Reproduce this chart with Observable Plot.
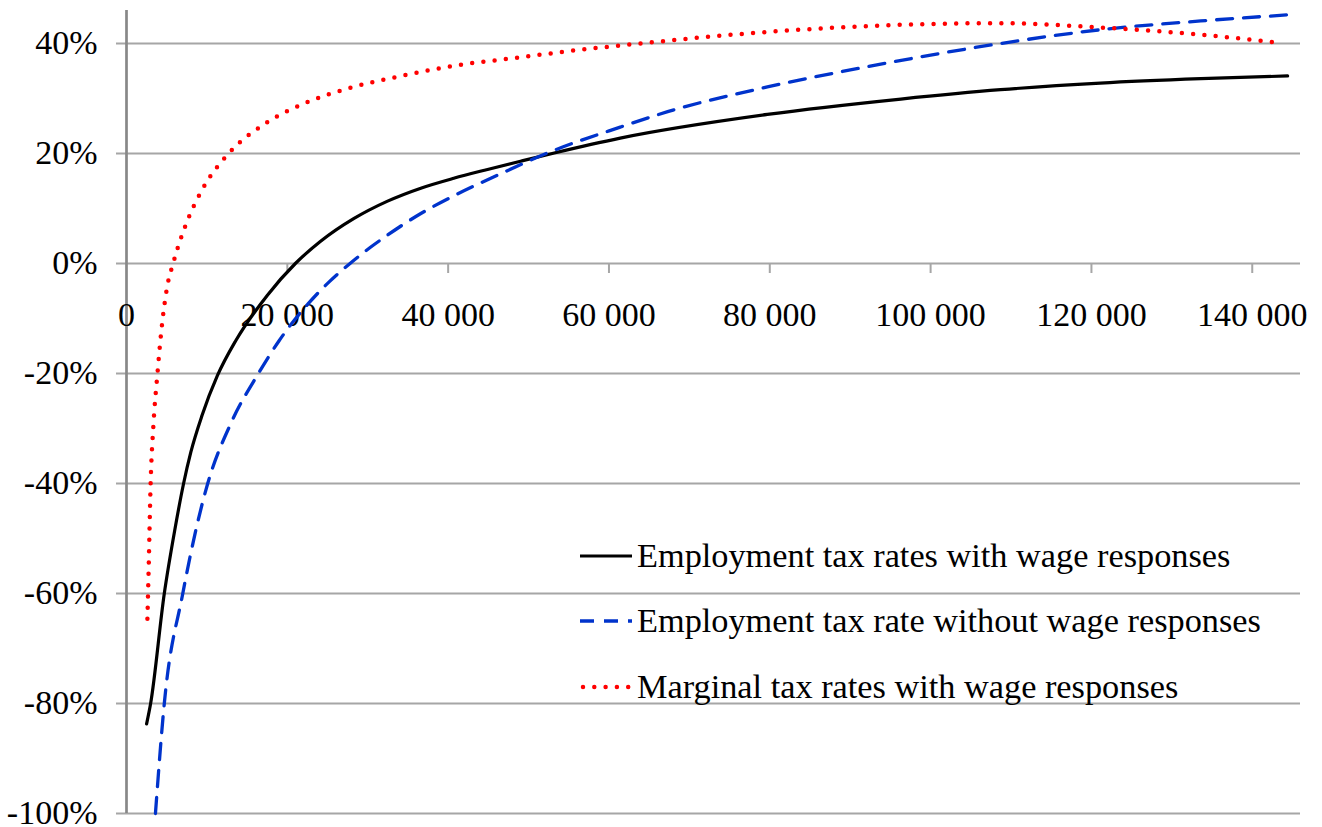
<!DOCTYPE html>
<html>
<head>
<meta charset="utf-8">
<script src="https://cdn.jsdelivr.net/npm/d3@7"></script>
<script src="https://cdn.jsdelivr.net/npm/@observablehq/plot@0.6"></script>
<style>
  html, body { margin: 0; padding: 0; background: #fff; }
  #wrap { position: relative; width: 1322px; height: 827px; }
  #legend { position: absolute; left: 0; top: 0; pointer-events: none; }
</style>
</head>
<body>
<div id="wrap"></div>
<script>
// ---- Data ----
const xTicks = [0, 20000, 40000, 60000, 80000, 100000, 120000, 140000];
const yTicks = [-100, -80, -60, -40, -20, 0, 20, 40];

const seriesNames = [
  "Employment tax rates with wage responses",
  "Employment tax rate without wage responses",
  "Marginal tax rates with wage responses"
];

// Employment tax rates with wage responses (solid black)
const empWithX = [2500, 3000, 4700, 6000, 7100, 8000, 9400, 11300, 13600, 17500, 21000, 24100, 28300, 32400, 36600, 40700, 44900, 49000, 53200, 61400, 79700, 96300, 108700, 121100, 133600, 144400];
const empWithY = [-83.7, -80, -60, -48.5, -40, -34.3, -27.6, -20.4, -14, -5.8, 0, 4.0, 8.2, 11.3, 13.7, 15.5, 17.1, 18.6, 20.1, 22.8, 27.1, 29.9, 31.6, 32.8, 33.6, 34.1];

// Employment tax rate without wage responses (dashed blue)
const empWithoutX = [3600, 4700, 7000, 10100, 13000, 16400, 19000, 22600, 25300, 27800, 30300, 32400, 36500, 40700, 46500, 52700, 61400, 67300, 79700, 92200, 108700, 121100, 133600, 144400];
const empWithoutY = [-100, -80, -60, -40, -29, -20, -14, -7.3, -3.2, 0, 2.9, 5.1, 9.0, 12.3, 16.3, 20.3, 24.8, 27.6, 32.1, 35.8, 40, 42.5, 44.1, 45.2];

// Marginal tax rates with wage responses (dotted red)
const margX = [2600, 2750, 3000, 3350, 3850, 4300, 5050, 5800, 7550, 9400, 12700, 17100, 22100, 27500, 34500, 41400, 48500, 55500, 61200, 79700, 96300, 108700, 121100, 133600, 143500];
const margY = [-64.6, -55.8, -40, -29.3, -20, -12.7, -4.3, 0, 7.7, 13.4, 20, 25.3, 29.1, 31.8, 34.2, 36.1, 37.4, 38.7, 39.6, 42.1, 43.4, 43.7, 42.9, 41.6, 40.1];

// ---- Build tables ----
const toRows = (xs, ys) => xs.map((x, i) => ({x, y: ys[i]}));
const empWith = toRows(empWithX, empWithY);
const empWithout = toRows(empWithoutX, empWithoutY);
const marg = toRows(margX, margY);

const FONT = "'Liberation Serif', 'Times New Roman', Times, serif";
const fmtX = d => d3.format(",")(d).replace(/,/g, " ");

const chart = Plot.plot({
  width: 1322,
  height: 827,
  marginLeft: 126,
  marginRight: 22,
  marginTop: 10,
  marginBottom: 14,
  x: {domain: [0, 146000], axis: null},
  y: {domain: [-100, 46], axis: null},
  style: {fontFamily: FONT, fontSize: "34px", background: "#fff", color: "#000"},
  marks: [
    Plot.ruleY(yTicks, {stroke: "#a6a6a6", strokeWidth: 2, insetLeft: -10}),
    Plot.axisY(yTicks, {label: null, tickSize: 0, tickPadding: 29, tickFormat: d => d + "%", fontSize: 34, fill: "#000"}),
    Plot.ruleX(xTicks.slice(1), {x: d => d, y1: 0, y2: 0, insetBottom: -10, stroke: "#a6a6a6", strokeWidth: 2}),
    Plot.ruleX([0], {stroke: "#888888", strokeWidth: 2.7}),
    Plot.text(xTicks, {x: d => d, y: 0, dy: 52, text: fmtX, fontSize: 34, fill: "#000"}),
    Plot.line(empWith, {x: "x", y: "y", stroke: "#000", strokeWidth: 3.2, curve: "monotone-x"}),
    Plot.line(empWithout, {x: "x", y: "y", stroke: "#0033cc", strokeWidth: 3.3, strokeDasharray: "16 11", curve: "monotone-x"}),
    Plot.line(marg, {x: "x", y: "y", stroke: "#ff0000", strokeWidth: 4.5, strokeDasharray: "0 11.3", strokeLinecap: "round", curve: "monotone-x"})
  ]
});
document.getElementById("wrap").appendChild(chart);

// ---- Legend overlay ----
const legendItems = [
  {name: seriesNames[0], stroke: "#000", width: 3.2, dash: null, cap: "butt"},
  {name: seriesNames[1], stroke: "#0033cc", width: 3.3, dash: "14 10", cap: "butt"},
  {name: seriesNames[2], stroke: "#ff0000", width: 4.5, dash: "0 11.3", cap: "round"}
];
const leg = d3.select("#wrap").append("svg")
  .attr("id", "legend").attr("width", 1322).attr("height", 827);
const rowY = [556, 621, 687];
legendItems.forEach((it, i) => {
  const g = leg.append("g").attr("transform", `translate(0,${rowY[i]})`);
  g.append("line")
    .attr("x1", it.cap === "round" ? 583 : 580).attr("x2", 632).attr("y1", 0).attr("y2", 0)
    .attr("stroke", it.stroke).attr("stroke-width", it.width)
    .attr("stroke-dasharray", it.dash).attr("stroke-linecap", it.cap);
  g.append("text").attr("x", 637).attr("y", 11)
    .attr("font-family", FONT).attr("font-size", 34.3).attr("fill", "#000")
    .text(it.name);
});
</script>
</body>
</html>
